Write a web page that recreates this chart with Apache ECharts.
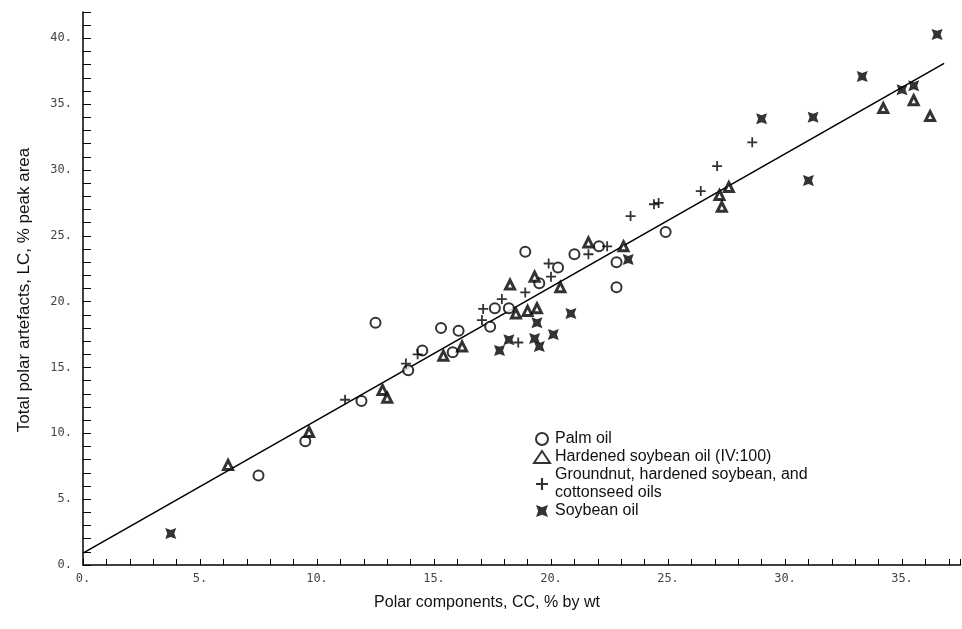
<!DOCTYPE html>
<html>
<head>
<meta charset="utf-8">
<script src="https://cdn.jsdelivr.net/npm/echarts@6/dist/echarts.min.js"></script>
<style>
  html, body { margin: 0; padding: 0; background: #fff; }
  #chart { width: 962px; height: 629px; }
</style>
</head>
<body>
<div id="chart"></div>
<script>
// points: [polar components CC, total polar artefacts LC]
const palmOil = [
  [7.5, 6.8], [9.5, 9.4], [11.9, 12.45], [13.9, 14.8], [14.5, 16.3], [12.5, 18.4],
  [15.3, 18.0], [15.8, 16.15], [16.05, 17.8], [17.4, 18.1], [17.6, 19.5], [18.2, 19.5],
  [18.9, 23.8], [19.5, 21.4], [20.3, 22.6], [21.0, 23.6], [22.05, 24.2], [22.8, 23.0],
  [22.8, 21.1], [24.9, 25.3]
];
const hardenedSoybean = [
  [6.2, 7.6], [9.66, 10.1], [12.8, 13.3], [13.0, 12.7], [15.4, 15.9], [16.2, 16.6],
  [18.25, 21.3], [18.5, 19.1], [19.0, 19.3], [19.4, 19.5], [19.3, 21.9], [20.4, 21.1],
  [21.6, 24.5], [23.1, 24.2], [27.2, 28.1], [27.3, 27.2], [27.6, 28.7], [34.2, 34.7],
  [35.5, 35.3], [36.2, 34.1]
];
const groundnutEtc = [
  [11.2, 12.55], [13.8, 15.3], [14.3, 16.0], [17.05, 18.6], [17.1, 19.45], [17.9, 20.2],
  [18.6, 16.9], [18.9, 20.7], [19.9, 22.9], [20.0, 21.9], [21.6, 23.6], [22.4, 24.2],
  [23.4, 26.5], [24.4, 27.4], [24.6, 27.5], [26.4, 28.4], [27.1, 30.3], [28.6, 32.1]
];
const soybeanOil = [
  [3.75, 2.4], [17.8, 16.3], [18.2, 17.1], [19.3, 17.2], [19.5, 16.6], [19.4, 18.4],
  [20.1, 17.5], [20.85, 19.1], [23.3, 23.2], [29.0, 33.9], [31.0, 29.2], [31.2, 34.0],
  [33.3, 37.1], [35.0, 36.1], [35.5, 36.4], [36.5, 40.3]
];
const fitLine = [[0, 0.9], [36.8, 38.1]];

const seriesNames = [
  'Palm oil',
  'Hardened soybean oil (IV:100)',
  'Groundnut, hardened soybean, and\ncottonseed oils',
  'Soybean oil'
];
const xTitle = 'Polar components, CC, % by wt';
const yTitle = 'Total polar artefacts, LC, % peak area';

const plusPath = 'path://M4.1,0H5.9V4.1H10V5.9H5.9V10H4.1V5.9H0V4.1H4.1Z';
const starPath = 'path://M0,0L5,1.8L10,0L8.2,5L10,10L5,8.2L0,10L1.8,5Z';

const chart = echarts.init(document.getElementById('chart'));

const tickLabel = {
  color: '#444',
  fontFamily: 'DejaVu Sans Mono',
  fontSize: 12,
  formatter: v => v + '.'
};

chart.setOption({
  animation: false,
  grid: { left: 83, right: 1.5, top: 12, bottom: 64 },
  xAxis: {
    type: 'value',
    min: 0, max: 37.5, interval: 5,
    splitLine: { show: false },
    axisLine: { lineStyle: { color: '#000', width: 1.5 } },
    axisTick: { inside: true, length: 6, lineStyle: { color: '#000' } },
    minorTick: { show: true, splitNumber: 5, length: 6, lineStyle: { color: '#000' } },
    axisLabel: { ...tickLabel, margin: 8, showMaxLabel: false }
  },
  yAxis: {
    type: 'value',
    min: 0, max: 42, interval: 5,
    splitLine: { show: false },
    axisLine: { show: true, lineStyle: { color: '#000', width: 1.5 } },
    axisTick: { show: true, inside: true, length: 8, lineStyle: { color: '#000' } },
    minorTick: { show: true, splitNumber: 5, length: 8, lineStyle: { color: '#000' } },
    axisLabel: { ...tickLabel, margin: 11, showMaxLabel: false }
  },
  legend: {
    orient: 'vertical',
    left: 528, top: 425,
    itemWidth: 16, itemHeight: 12, itemGap: 0,
    textStyle: { color: '#111', fontSize: 16, fontFamily: 'Liberation Sans', lineHeight: 18 },
    data: seriesNames
  },
  graphic: [
    {
      type: 'text', x: 487, y: 595,
      style: { text: xTitle, fill: '#111', font: '16px "Liberation Sans"', align: 'center' }
    },
    {
      type: 'text', x: 24, y: 290, rotation: Math.PI / 2,
      style: { text: yTitle, fill: '#111', font: '17px "Liberation Sans"', align: 'center', verticalAlign: 'middle' }
    }
  ],
  series: [
    {
      name: 'fit', type: 'line', data: fitLine, symbol: 'none',
      lineStyle: { color: '#000', width: 1.6 }, z: 1
    },
    {
      name: seriesNames[0], type: 'scatter', data: palmOil,
      symbol: 'circle', symbolSize: 10,
      itemStyle: { color: '#fff', borderColor: '#000', borderWidth: 2 }
    },
    {
      name: seriesNames[1], type: 'scatter', data: hardenedSoybean,
      symbol: 'triangle', symbolSize: 9,
      itemStyle: { color: '#fff', borderColor: '#000', borderWidth: 3 }
    },
    {
      name: seriesNames[2], type: 'scatter', data: groundnutEtc,
      symbol: plusPath, symbolSize: 10,
      itemStyle: { color: '#000' }
    },
    {
      name: seriesNames[3], type: 'scatter', data: soybeanOil,
      symbol: starPath, symbolSize: 11,
      itemStyle: { color: '#000' }
    }
  ]
});
</script>
</body>
</html>
